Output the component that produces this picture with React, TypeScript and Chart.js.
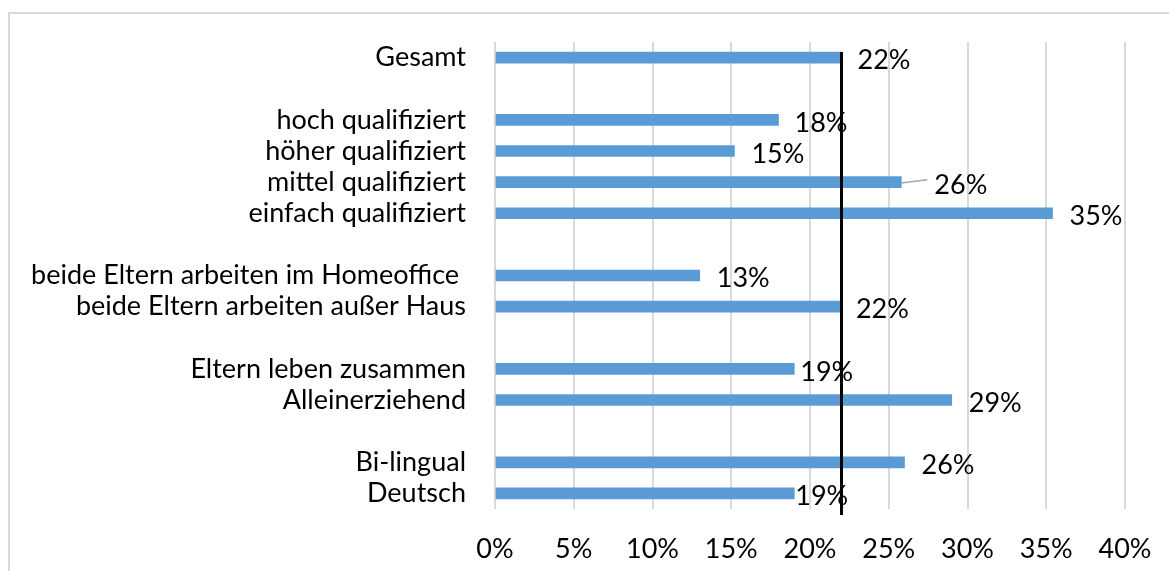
import React, { useEffect, useRef } from "react";
import { Chart, registerables } from "chart.js";
Chart.register(...registerables);

const categories = [
  "Gesamt",
  "",
  "hoch qualifiziert",
  "höher qualifiziert",
  "mittel qualifiziert",
  "einfach qualifiziert",
  "",
  "beide Eltern arbeiten im Homeoffice ",
  "beide Eltern arbeiten außer Haus",
  "",
  "Eltern leben zusammen",
  "Alleinerziehend",
  "",
  "Bi-lingual",
  "Deutsch",
];
const values = [22.0, null, 18.0, 15.2, 25.8, 35.4, null, 13.0, 21.9, null, 19.0, 29.0, null, 26.0, 19.0];
const valueLabels = ["22%", "", "18%", "15%", "26%", "35%", "", "13%", "22%", "", "19%", "29%", "", "26%", "19%"];
const referenceValue = 22;
const xMin = 0;
const xMax = 40;
const xStep = 5;

// style: horizontal gap between bar end and its label (px)
const labelGap = [16, 0, 16, 17, 33, 17, 0, 17, 16, 0, 6, 17, 0, 17, 1];
const leaderLines = [false, false, false, false, true, false, false, false, false, false, false, false, false, false, false];

const FONT = "Lato, 'Open Sans', sans-serif";
const FONT_SIZE = 27;

const decor = {
  id: "decor",
  beforeDraw(chart: any) {
    const ctx = chart.ctx;
    ctx.save();
    ctx.strokeStyle = "#d9d9d9";
    ctx.lineWidth = 2;
    ctx.strokeRect(9, 13, chart.width + 20, chart.height + 20);
    ctx.restore();
  },
  afterDatasetsDraw(chart: any) {
    const ctx = chart.ctx;
    const xs = chart.scales.x;
    const ys = chart.scales.y;
    const area = chart.chartArea;
    ctx.save();
    // labels
    ctx.font = `${FONT_SIZE}px ${FONT}`;
    ctx.fillStyle = "#000";
    ctx.textAlign = "left";
    ctx.textBaseline = "middle";
    values.forEach((v, i) => {
      if (v === null) return;
      const xe = xs.getPixelForValue(v);
      const yc = ys.getPixelForValue(i);
      if (leaderLines[i]) {
        ctx.strokeStyle = "#a6a6a6";
        ctx.lineWidth = 1.5;
        ctx.beginPath();
        ctx.moveTo(xe, yc + 1);
        ctx.lineTo(xe + labelGap[i] - 9, yc - 2);
        ctx.lineTo(xe + labelGap[i] - 7, yc - 2);
        ctx.stroke();
      }
      ctx.fillText(valueLabels[i], xe + labelGap[i], yc + 3);
    });
    // reference line
    const xr = xs.getPixelForValue(referenceValue);
    ctx.strokeStyle = "#000";
    ctx.lineWidth = 3;
    ctx.beginPath();
    ctx.moveTo(xr, area.top + 10);
    ctx.lineTo(xr, area.bottom + 6);
    ctx.stroke();
    ctx.restore();
  },
};

export default function App() {
  const ref = useRef<HTMLCanvasElement>(null);
  useEffect(() => {
    if (!ref.current) return;
    const chart = new Chart(ref.current, {
      type: "bar",
      data: {
        labels: categories,
        datasets: [
          {
            data: values as any,
            backgroundColor: "#5B9BD5",
            barThickness: 11,
          },
        ],
      },
      options: {
        indexAxis: "y",
        animation: false,
        responsive: true,
        maintainAspectRatio: false,
        layout: { padding: { top: 42, right: 44, left: 0, bottom: 0 } },
        plugins: { legend: { display: false }, tooltip: { enabled: false } },
        scales: {
          x: {
            min: xMin,
            max: xMax,
            ticks: {
              stepSize: xStep,
              callback: (v: any) => v + "%",
              color: "#000",
              font: { family: FONT, size: FONT_SIZE },
              padding: 24,
              maxRotation: 0,
            },
            grid: { color: "#d9d9d9", lineWidth: 2, drawTicks: false },
            border: { display: false },
            afterFit: (s: any) => {
              s.height = 62;
              s.paddingLeft = 0;
              s.paddingRight = 0;
            },
          },
          y: {
            ticks: {
              color: "#000",
              font: { family: FONT, size: FONT_SIZE },
              padding: 29,
              autoSkip: false,
            },
            grid: { display: false, drawTicks: false },
            border: { display: false },
            afterFit: (s: any) => {
              s.width = 495;
              s.paddingTop = 0;
              s.paddingBottom = 0;
            },
          },
        },
      },
      plugins: [decor],
    });
    return () => chart.destroy();
  }, []);
  return (
    <div style={{ position: "fixed", left: 0, top: 0, width: 1169, height: 571, background: "#fff" }}>
      <canvas ref={ref} />
    </div>
  );
}
